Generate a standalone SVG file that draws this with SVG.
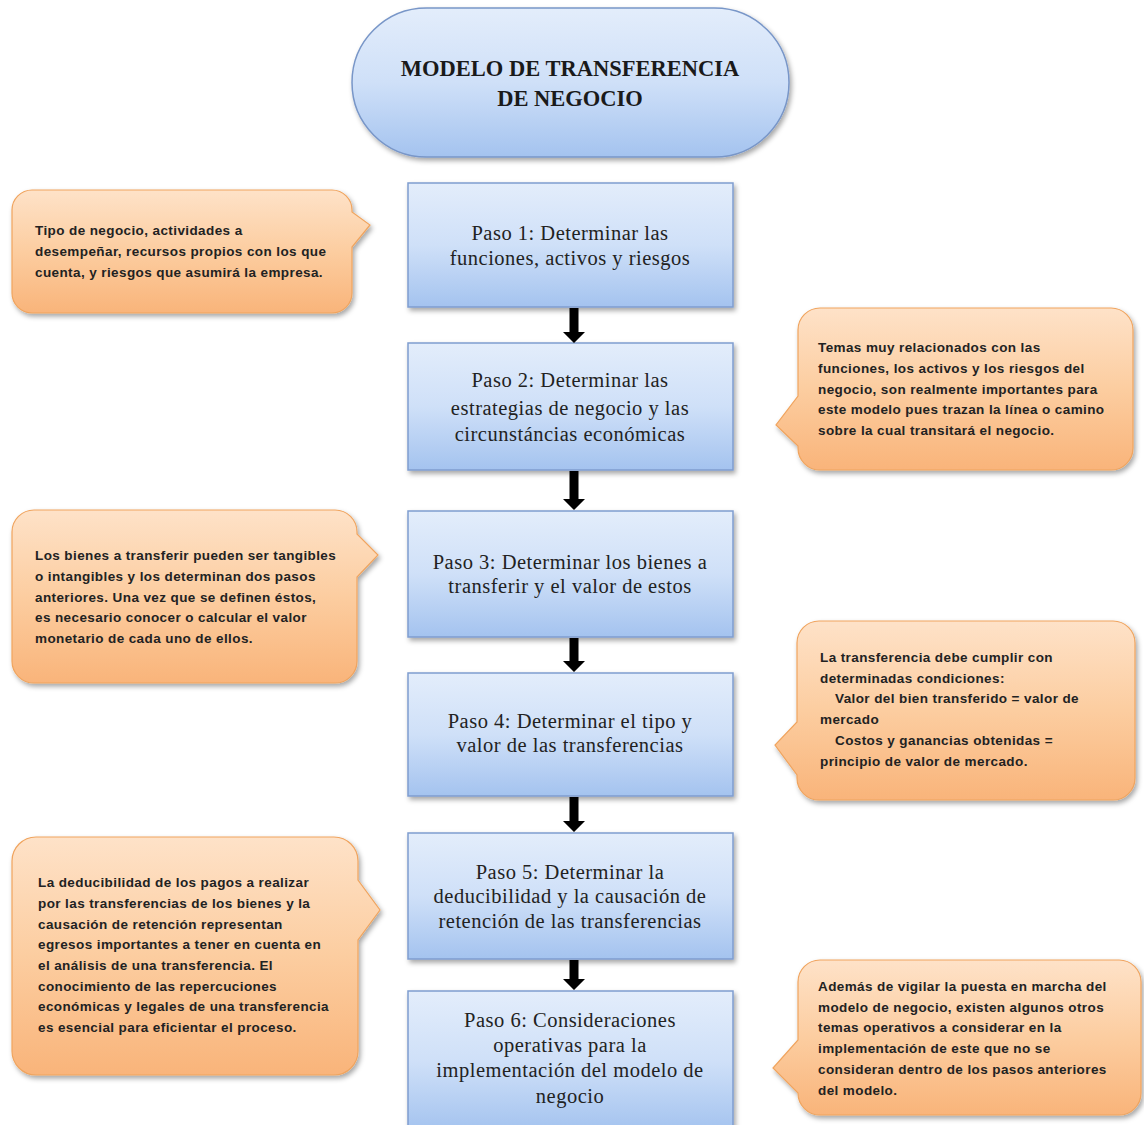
<svg xmlns="http://www.w3.org/2000/svg" width="1144" height="1125" viewBox="0 0 1144 1125">
<defs>
<linearGradient id="gBlue" x1="0" y1="0" x2="0" y2="1">
<stop offset="0" stop-color="#e3edfb"/>
<stop offset="0.5" stop-color="#cfe0f8"/>
<stop offset="1" stop-color="#a4c3ef"/>
</linearGradient>
<linearGradient id="gOrange" x1="0" y1="0" x2="0" y2="1">
<stop offset="0" stop-color="#fee2c8"/>
<stop offset="0.5" stop-color="#fccda0"/>
<stop offset="1" stop-color="#f9b47a"/>
</linearGradient>
<filter id="sh" x="-10%" y="-10%" width="125%" height="130%">
<feDropShadow dx="2" dy="3" stdDeviation="2.5" flood-color="#000" flood-opacity="0.35"/>
</filter>
</defs>
<style>
.step{fill:url(#gBlue);stroke:#7f9dcf;stroke-width:1.5;filter:url(#sh)}
.call{fill:url(#gOrange);stroke:#f0a45e;stroke-width:1.2;filter:url(#sh)}
.st{font-family:"Liberation Serif","Times New Roman",serif;font-size:20.5px;letter-spacing:0.5px;fill:#222;text-anchor:middle}
.ct{font-family:"Liberation Sans",Arial,sans-serif;font-size:13.5px;letter-spacing:0.4px;font-weight:bold;fill:#222}
.title{font-family:"Liberation Serif","Times New Roman",serif;font-size:22.5px;font-weight:bold;fill:#1a1a1a;text-anchor:middle}
.arr{fill:#000}
</style>
<rect width="1144" height="1125" fill="#fff"/>

<g id="title">
<rect x="352" y="8" width="437" height="149" rx="74.5" ry="74.5" fill="url(#gBlue)" stroke="#7896c8" stroke-width="1.5" filter="url(#sh)"/>
<text class="title" x="570" y="76">MODELO DE TRANSFERENCIA</text>
<text class="title" x="570" y="106">DE NEGOCIO</text>
</g>

<g id="paso1">
<rect class="step" x="408" y="183" width="325" height="124"/>
<text class="st" x="570" y="240">Paso 1: Determinar  las</text>
<text class="st" x="570" y="265">funciones, activos y riesgos</text>
</g>
<g id="paso2">
<rect class="step" x="408" y="343" width="325" height="127"/>
<text class="st" x="570" y="387">Paso 2: Determinar  las</text>
<text class="st" x="570" y="415">estrategias de negocio y las</text>
<text class="st" x="570" y="441">circunstáncias económicas</text>
</g>
<g id="paso3">
<rect class="step" x="408" y="511" width="325" height="126"/>
<text class="st" x="570" y="569">Paso 3: Determinar  los bienes a</text>
<text class="st" x="570" y="593">transferir  y el valor de estos</text>
</g>
<g id="paso4">
<rect class="step" x="408" y="673" width="325" height="123"/>
<text class="st" x="570" y="728">Paso 4: Determinar  el tipo y</text>
<text class="st" x="570" y="752">valor de las transferencias</text>
</g>
<g id="paso5">
<rect class="step" x="408" y="833" width="325" height="126"/>
<text class="st" x="570" y="879">Paso 5: Determinar  la</text>
<text class="st" x="570" y="903">deducibilidad y la causación de</text>
<text class="st" x="570" y="928">retención  de las transferencias</text>
</g>
<g id="paso6">
<rect class="step" x="408" y="991" width="325" height="140"/>
<text class="st" x="570" y="1027">Paso 6: Consideraciones</text>
<text class="st" x="570" y="1052">operativas para la</text>
<text class="st" x="570" y="1077">implementación del modelo de</text>
<text class="st" x="570" y="1103">negocio</text>
</g>

<g id="nota1">
<path class="call" d="M32,190 H332 A20,20 0 0 1 352,210 V212 L370,225 L352,247 V293 A20,20 0 0 1 332,313 H32 A20,20 0 0 1 12,293 V210 A20,20 0 0 1 32,190 Z"/>
<text class="ct" x="35" y="235">Tipo de negocio, actividades a</text>
<text class="ct" x="35" y="256">desempeñar, recursos propios con los que</text>
<text class="ct" x="35" y="277">cuenta, y riesgos que asumirá la empresa.</text>
</g>
<g id="nota2">
<path class="call" d="M820,308 H1111 A22,22 0 0 1 1133,330 V448 A22,22 0 0 1 1111,470 H820 A22,22 0 0 1 798,448 V446 L776,425 L798,396 V330 A22,22 0 0 1 820,308 Z"/>
<text class="ct" x="818" y="352">Temas muy relacionados con las</text>
<text class="ct" x="818" y="373">funciones, los activos y los riesgos del</text>
<text class="ct" x="818" y="394">negocio, son realmente importantes para</text>
<text class="ct" x="818" y="414">este modelo pues trazan la línea o camino</text>
<text class="ct" x="818" y="435">sobre la cual transitará el negocio.</text>
</g>
<g id="nota3">
<path class="call" d="M34,510 H335 A22,22 0 0 1 357,532 V534 L378,555 L357,577 V661 A22,22 0 0 1 335,683 H34 A22,22 0 0 1 12,661 V532 A22,22 0 0 1 34,510 Z"/>
<text class="ct" x="35" y="560">Los bienes a transferir pueden ser tangibles</text>
<text class="ct" x="35" y="581">o intangibles y los determinan dos pasos</text>
<text class="ct" x="35" y="602">anteriores. Una vez que se definen éstos,</text>
<text class="ct" x="35" y="622">es necesario conocer o calcular el valor</text>
<text class="ct" x="35" y="643">monetario de cada uno de ellos.</text>
</g>
<g id="nota4">
<path class="call" d="M819,621 H1113 A22,22 0 0 1 1135,643 V778 A22,22 0 0 1 1113,800 H819 A22,22 0 0 1 797,778 V775 L775,745 L797,722 V643 A22,22 0 0 1 819,621 Z"/>
<text class="ct" x="820" y="662">La transferencia debe cumplir con</text>
<text class="ct" x="820" y="683">determinadas condiciones:</text>
<text class="ct" x="835" y="703">Valor del bien transferido = valor de</text>
<text class="ct" x="820" y="724">mercado</text>
<text class="ct" x="835" y="745">Costos y ganancias obtenidas =</text>
<text class="ct" x="820" y="766">principio de valor de mercado.</text>
</g>
<g id="nota5">
<path class="call" d="M36,837 H334 A24,24 0 0 1 358,861 V880 L380,910 L358,940 V1051 A24,24 0 0 1 334,1075 H36 A24,24 0 0 1 12,1051 V861 A24,24 0 0 1 36,837 Z"/>
<text class="ct" x="38" y="887">La deducibilidad de los pagos a realizar</text>
<text class="ct" x="38" y="908">por las transferencias de los bienes y la</text>
<text class="ct" x="38" y="929">causación de retención representan</text>
<text class="ct" x="38" y="949">egresos importantes a tener en cuenta en</text>
<text class="ct" x="38" y="970">el análisis de una transferencia. El</text>
<text class="ct" x="38" y="991">conocimiento de las repercuciones</text>
<text class="ct" x="38" y="1011">económicas y legales de una transferencia</text>
<text class="ct" x="38" y="1032">es esencial  para eficientar el proceso.</text>
</g>
<g id="nota6">
<path class="call" d="M820,960 H1119 A22,22 0 0 1 1141,982 V1093 A22,22 0 0 1 1119,1115 H820 A22,22 0 0 1 798,1093 V1093 L773,1068 L798,1040 V982 A22,22 0 0 1 820,960 Z"/>
<text class="ct" x="818" y="991">Además de vigilar la puesta en marcha del</text>
<text class="ct" x="818" y="1012">modelo de negocio, existen algunos otros</text>
<text class="ct" x="818" y="1032">temas operativos a considerar en la</text>
<text class="ct" x="818" y="1053">implementación de este que no se</text>
<text class="ct" x="818" y="1074">consideran dentro de los pasos anteriores</text>
<text class="ct" x="818" y="1095">del modelo.</text>
</g>

<g id="conectores">
<path class="arr" d="M569.5,308 H578.5 V332 H585 L574,343 L563,332 H569.5 Z"/>
<path class="arr" d="M569.5,471 H578.5 V499 H585 L574,510 L563,499 H569.5 Z"/>
<path class="arr" d="M569.5,638 H578.5 V661 H585 L574,672 L563,661 H569.5 Z"/>
<path class="arr" d="M569.5,797 H578.5 V821 H585 L574,832 L563,821 H569.5 Z"/>
<path class="arr" d="M569.5,960 H578.5 V979 H585 L574,990 L563,979 H569.5 Z"/>
</g>
</svg>
